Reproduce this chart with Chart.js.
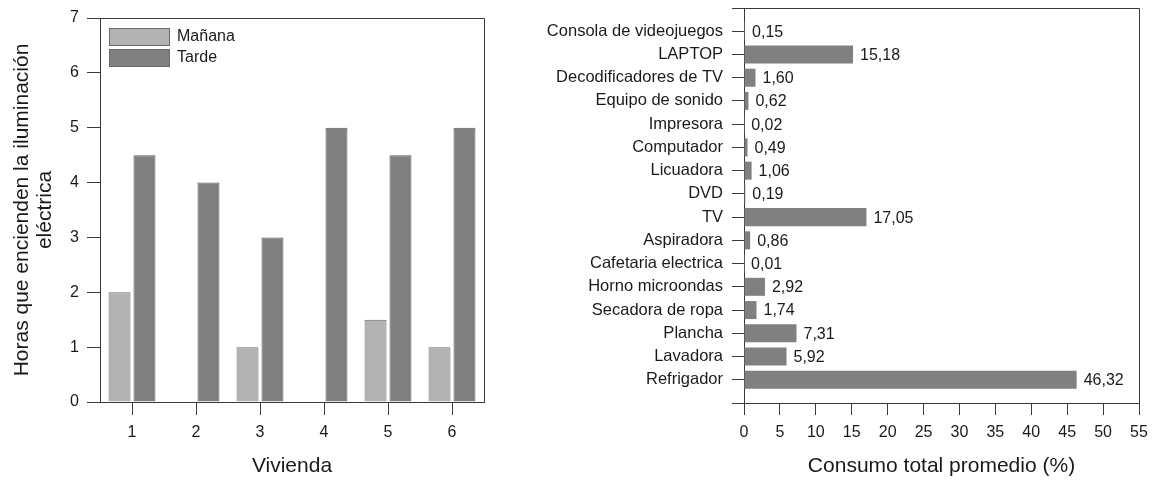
<!DOCTYPE html>
<html>
<head>
<meta charset="utf-8">
<script src="https://cdn.jsdelivr.net/npm/chart.js@4.4.1/dist/chart.umd.min.js"></script>
<style>
  html, body { margin: 0; padding: 0; background: #fff; }
  #wrap { position: relative; width: 1157px; height: 482px; }
  #leftBox { position: absolute; left: 0; top: 0; width: 560px; height: 482px; }
  #rightBox { position: absolute; left: 530px; top: 0; width: 627px; height: 482px; }
</style>
</head>
<body>
<div id="wrap">
  <div id="leftBox"><canvas id="horasChart" width="560" height="482"></canvas></div>
  <div id="rightBox"><canvas id="consumoChart" width="627" height="482"></canvas></div>
</div>
<script>
// Left chart data
const viviendas = ['1', '2', '3', '4', '5', '6'];
const manana = [2, 0, 1, 0, 1.5, 1];
const tarde = [4.5, 4, 3, 5, 4.5, 5];
const horasTicks = [0, 1, 2, 3, 4, 5, 6, 7];

// Right chart data
const aparatos = ['Consola de videojuegos', 'LAPTOP', 'Decodificadores de TV', 'Equipo de sonido',
    'Impresora', 'Computador', 'Licuadora', 'DVD', 'TV', 'Aspiradora', 'Cafetaria electrica',
    'Horno microondas', 'Secadora de ropa', 'Plancha', 'Lavadora', 'Refrigador'];
const consumo = [0.15, 15.18, 1.60, 0.62, 0.02, 0.49, 1.06, 0.19, 17.05, 0.86, 0.01,
    2.92, 1.74, 7.31, 5.92, 46.32];
const consumoTicks = [0, 5, 10, 15, 20, 25, 30, 35, 40, 45, 50, 55];

const FONT = "'Liberation Sans', Arial, sans-serif";
const TEXT = '#1a1a1a';
const LINE = '#3a3a3a';

Chart.defaults.font.family = FONT;
Chart.defaults.color = TEXT;
Chart.defaults.animation = false;

// draws top and right edges of the plot box
const framePlugin = {
    id: 'frame',
    afterDraw(chart) {
        const { ctx, chartArea: a } = chart;
        ctx.save();
        ctx.strokeStyle = LINE;
        ctx.lineWidth = 1;
        ctx.beginPath();
        ctx.moveTo(Math.round(a.left) + 0.5, Math.round(a.top) + 0.5);
        ctx.lineTo(Math.round(a.right) + 0.5, Math.round(a.top) + 0.5);
        ctx.lineTo(Math.round(a.right) + 0.5, Math.round(a.bottom) + 0.5);
        ctx.stroke();
        ctx.restore();
    }
};

// legend boxes inside the plot, top-left
const boxLegend = {
    id: 'boxLegend',
    afterDraw(chart) {
        const { ctx, chartArea: a } = chart;
        ctx.save();
        ctx.font = '16px ' + FONT;
        ctx.textBaseline = 'middle';
        chart.data.datasets.forEach((ds, i) => {
            const x = a.left + 9;
            const y = a.top + 10 + i * 21;
            ctx.fillStyle = ds.backgroundColor;
            ctx.fillRect(x, y, 61, 18);
            ctx.strokeStyle = '#6a6a6a';
            ctx.strokeRect(x + 0.5, y + 0.5, 60, 17);
            ctx.fillStyle = TEXT;
            ctx.fillText(ds.label, x + 68, y + 9);
        });
        ctx.restore();
    }
};

// value labels at the end of each bar
const valueLabels = {
    id: 'valueLabels',
    afterDatasetsDraw(chart) {
        const { ctx } = chart;
        const meta = chart.getDatasetMeta(0);
        ctx.save();
        ctx.font = '16px ' + FONT;
        ctx.fillStyle = TEXT;
        ctx.textAlign = 'left';
        ctx.textBaseline = 'middle';
        meta.data.forEach((bar, i) => {
            const txt = consumo[i].toFixed(2).replace('.', ',');
            ctx.fillText(txt, bar.x + 7, bar.y + 1);
        });
        ctx.restore();
    }
};

// Left chart: horas de iluminación
new Chart(document.getElementById('horasChart'), {
    type: 'bar',
    data: {
        labels: viviendas,
        datasets: [
            { label: 'Mañana', data: manana, backgroundColor: '#b3b3b3', borderColor: '#6a6a6a', borderWidth: 1 },
            { label: 'Tarde', data: tarde, backgroundColor: '#808080', borderColor: '#5a5a5a', borderWidth: 1 }
        ]
    },
    options: {
        responsive: false,
        categoryPercentage: 0.78,
        barPercentage: 0.88,
        layout: { padding: { top: 18, right: 76, bottom: 0, left: 0 } },
        plugins: { legend: { display: false }, tooltip: { enabled: false } },
        scales: {
            x: {
                offset: true,
                grid: { offset: false, drawOnChartArea: false, tickLength: 13, color: LINE },
                border: { color: LINE },
                ticks: { font: { size: 16 }, padding: 8, color: TEXT },
                title: { display: true, text: 'Vivienda', font: { size: 21 }, padding: { top: 0, bottom: 3 }, color: TEXT },
                afterFit(scale) { scale.height = 80; }
            },
            y: {
                min: 0,
                max: 7,
                afterBuildTicks(scale) { scale.ticks = horasTicks.map(v => ({ value: v })); },
                grid: { drawOnChartArea: false, tickLength: 13, color: LINE },
                border: { color: LINE },
                ticks: { font: { size: 16 }, padding: 8, color: TEXT },
                title: {
                    display: true,
                    text: ['Horas que encienden la iluminación', 'eléctrica'],
                    font: { size: 21, lineHeight: 1.1 },
                    padding: { top: 11, bottom: 0 },
                    color: TEXT
                },
                afterFit(scale) { scale.width = 100; }
            }
        }
    },
    plugins: [framePlugin, boxLegend]
});

// Right chart: consumo total promedio
new Chart(document.getElementById('consumoChart'), {
    type: 'bar',
    data: {
        datasets: [{
            data: aparatos.map((name, i) => ({ x: consumo[i], y: i })),
            backgroundColor: '#808080',
            borderWidth: 0
        }]
    },
    options: {
        responsive: false,
        indexAxis: 'y',
        categoryPercentage: 0.8,
        barPercentage: 0.97,
        layout: { padding: { top: 8, right: 18, bottom: 0, left: 0 } },
        plugins: { legend: { display: false }, tooltip: { enabled: false } },
        scales: {
            x: {
                type: 'linear',
                min: 0,
                max: 55,
                afterBuildTicks(scale) { scale.ticks = consumoTicks.map(v => ({ value: v })); },
                grid: { drawOnChartArea: false, tickLength: 12, color: LINE },
                border: { color: LINE },
                ticks: { font: { size: 16 }, padding: 8, color: TEXT },
                title: { display: true, text: 'Consumo total promedio (%)', font: { size: 21 }, padding: { top: 0, bottom: 3 }, color: TEXT },
                afterFit(scale) { scale.height = 79; }
            },
            y: {
                type: 'linear',
                reverse: true,
                offset: false,
                min: -1,
                max: 16,
                afterBuildTicks(scale) {
                    const t = [];
                    for (let i = -1; i <= aparatos.length; i++) t.push({ value: i });
                    scale.ticks = t;
                },
                grid: { offset: false, drawOnChartArea: false, tickLength: 12, color: LINE },
                border: { color: LINE },
                ticks: {
                    font: { size: 16.5 },
                    padding: 9,
                    color: TEXT,
                    autoSkip: false,
                    callback: (v) => aparatos[v] || ''
                },
                afterFit(scale) {
                    scale.width = 214;
                    scale.paddingTop = 0;
                    scale.paddingBottom = 0;
                }
            }
        }
    },
    plugins: [framePlugin, valueLabels]
});
</script>
</body>
</html>
